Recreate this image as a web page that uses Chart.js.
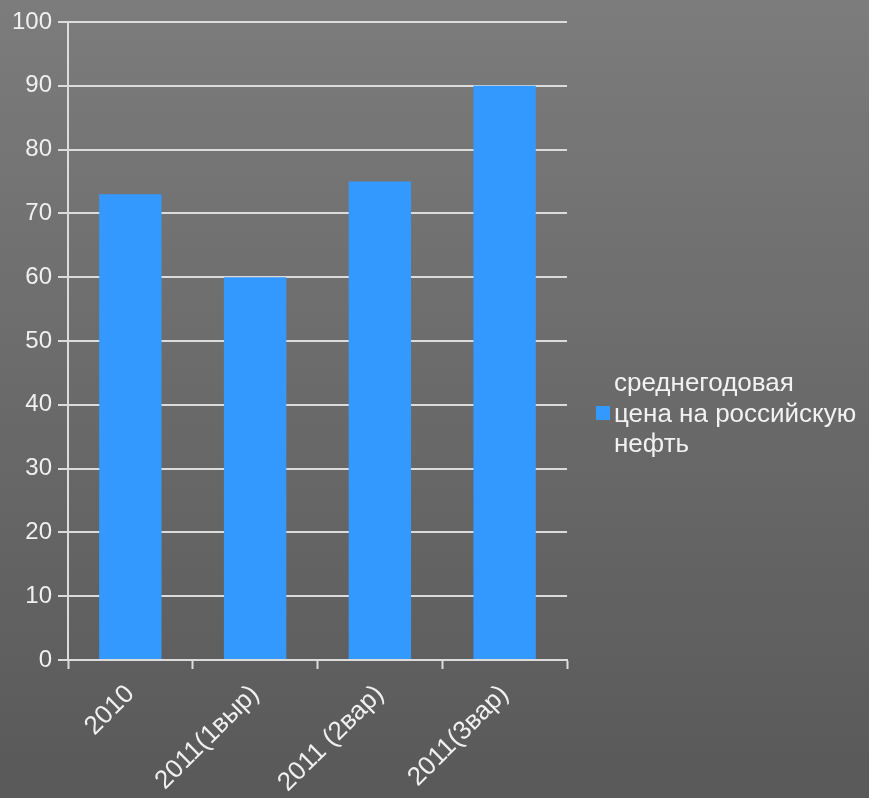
<!DOCTYPE html>
<html>
<head>
<meta charset="utf-8">
<script src="https://cdn.jsdelivr.net/npm/chart.js@4"></script>
<style>
  html, body { margin: 0; padding: 0; }
  body {
    width: 869px; height: 798px; overflow: hidden; position: relative;
    background: linear-gradient(to bottom, #7c7c7c 0%, #6a6a6a 50%, #595959 100%);
    font-family: "Liberation Sans", Arial, sans-serif;
  }
  #wrap { position: absolute; left: 0; top: 0; width: 869px; height: 798px; }
  #legend {
    position: absolute; left: 596px; top: 367px; color: #f2f2f2;
    font-size: 26px; line-height: 30.5px; white-space: nowrap;
  }
  #legend .row { display: flex; align-items: center; }
  #legend .box { width: 14px; height: 14px; margin-right: 4px; }
</style>
</head>
<body>
<div id="wrap"><canvas id="oilChart" width="869" height="798"></canvas></div>
<div id="legend"></div>
<script>
const categories = ['2010', '2011(1выр)', '2011 (2вар)', '2011(3вар)'];
const priceValues = [73, 60, 75, 90];
const seriesName = ['среднегодовая', 'цена на российскую', 'нефть'];
const yTicks = [0, 10, 20, 30, 40, 50, 60, 70, 80, 90, 100];

const lineColor = '#dcdcdc';
const textColor = '#f0f0f0';
const barColor = '#3399ff';

const ctx = document.getElementById('oilChart').getContext('2d');

const chart = new Chart(ctx, {
    type: 'bar',
    data: {
        labels: categories,
        datasets: [{
            label: seriesName.join(' '),
            data: priceValues,
            backgroundColor: barColor,
            categoryPercentage: 1.0,
            barPercentage: 0.5
        }]
    },
    options: {
        responsive: false,
        animation: false,
        layout: { padding: { top: 22, right: 302, left: 0, bottom: 0 } },
        plugins: { legend: { display: false }, tooltip: { enabled: false } },
        scales: {
            x: {
                offset: true,
                grid: {
                    offset: true,
                    drawOnChartArea: false,
                    drawTicks: true,
                    tickLength: 9,
                    tickWidth: 2,
                    color: lineColor
                },
                border: { display: true, color: lineColor, width: 2 },
                ticks: {
                    color: textColor,
                    font: { family: 'Liberation Sans', size: 26 },
                    minRotation: 45,
                    maxRotation: 45,
                    padding: 10
                },
                afterFit: (scale) => { scale.height = 138; }
            },
            y: {
                min: 0,
                max: 100,
                afterBuildTicks: (scale) => { scale.ticks = yTicks.map(v => ({ value: v })); },
                grid: {
                    color: lineColor,
                    lineWidth: 2,
                    tickLength: 10,
                    drawTicks: true
                },
                border: { display: true, color: lineColor, width: 2 },
                ticks: {
                    color: textColor,
                    font: { family: 'Liberation Sans', size: 24 },
                    padding: 6
                },
                afterFit: (scale) => { scale.width = 68; }
            }
        }
    }
});

// legend with the wrapped series name, like in the original
const legend = document.getElementById('legend');
seriesName.forEach((line, i) => {
    const row = document.createElement('div');
    row.className = 'row';
    if (i === 1) {
        const box = document.createElement('span');
        box.className = 'box';
        box.style.background = barColor;
        row.appendChild(box);
    } else {
        row.style.paddingLeft = '18px';
    }
    const t = document.createElement('span');
    t.textContent = line;
    row.appendChild(t);
    legend.appendChild(row);
});
</script>
</body>
</html>
